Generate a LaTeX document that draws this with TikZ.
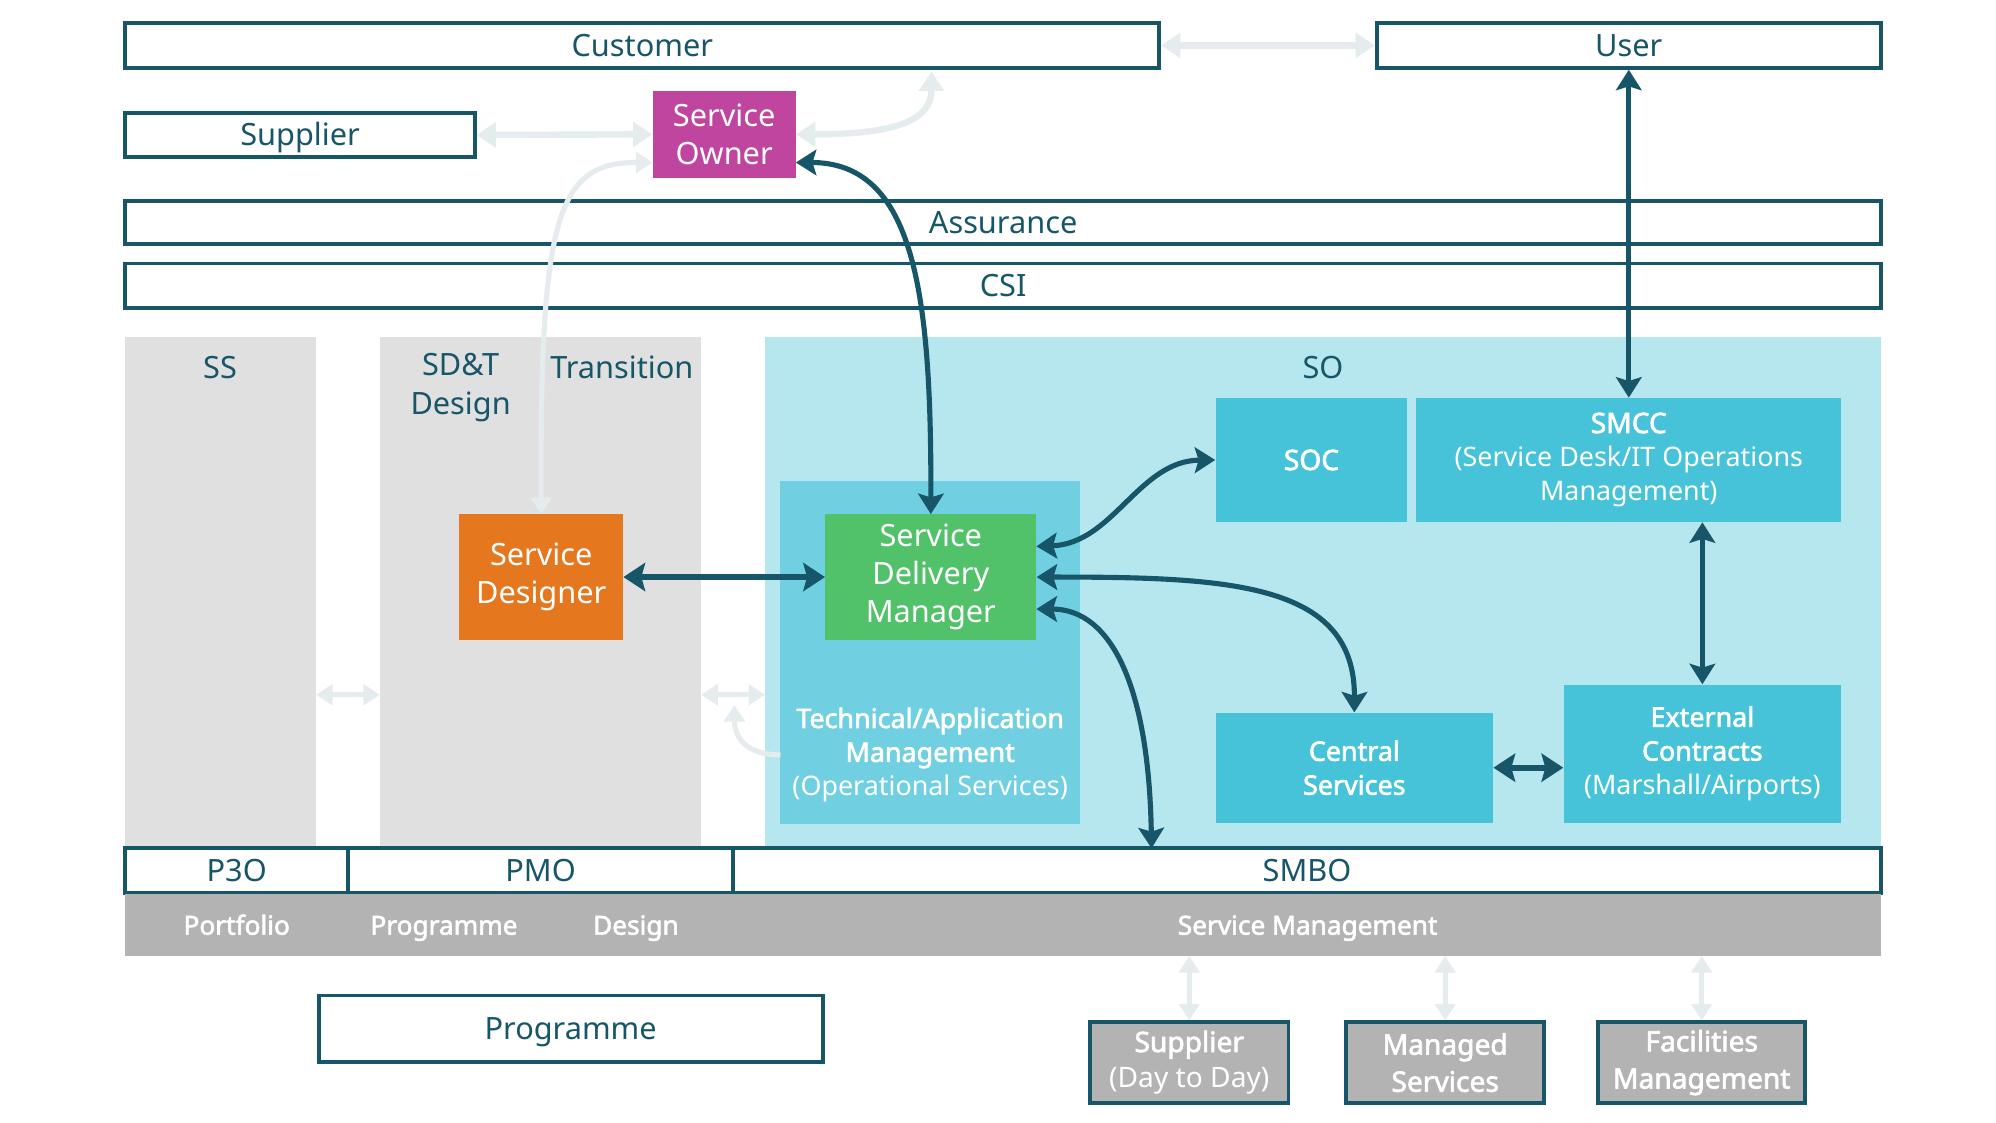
\documentclass[tikz,border=0pt]{standalone}
\usepackage{fontspec}
\setmainfont{Noto Sans}[AutoFakeBold=2.2]
\usetikzlibrary{arrows.meta}
\definecolor{dk}{HTML}{175668}
\definecolor{lt}{HTML}{E4ECEE}
\definecolor{colgray}{HTML}{E0E0E0}
\definecolor{soreg}{HTML}{B6E6EE}
\definecolor{techc}{HTML}{70D0E2}
\definecolor{cyanb}{HTML}{46C3D9}
\definecolor{magb}{HTML}{BF459E}
\definecolor{orgb}{HTML}{E5771F}
\definecolor{grnb}{HTML}{51C16A}
\definecolor{bandc}{HTML}{B3B3B3}
\begin{document}
\begin{tikzpicture}[x=1pt,y=-1pt,
  obox/.style={draw=dk, line width=3pt, fill=white, text=dk, inner sep=0pt,
    text height=17pt, text depth=0pt, font=\fontsize{24}{29}\selectfont},
  fbox/.style={inner sep=0pt, text=white, align=center},
  bigtxt/.style={font=\fontsize{24}{29.5}\selectfont},
  cytxt/.style={font=\fontsize{21}{26.5}\selectfont},
  lbl/.style={text=dk, align=center, inner sep=0pt, font=\fontsize{24}{31}\selectfont},
  bandtxt/.style={text=white, inner sep=0pt, anchor=base, font=\bfseries\fontsize{20.5}{24}\selectfont},
  darr/.style={draw=dk, line width=4pt,
    {Stealth[length=16pt,width=20pt,inset=3pt]}-{Stealth[length=16pt,width=20pt,inset=3pt]}},
  tarr/.style={draw=dk, line width=5pt,
    {Stealth[length=17pt,width=22pt,inset=3pt]}-{Stealth[length=17pt,width=22pt,inset=3pt]}},
  larr/.style={draw=lt, line width=5pt,
    {Triangle[length=15pt,width=19pt]}-{Triangle[length=15pt,width=19pt]}},
  sarr/.style={draw=lt, line width=4pt,
    {Triangle[length=13pt,width=16pt]}-{Triangle[length=13pt,width=16pt]}},
]
\useasboundingbox (0,0) rectangle (1560,877.5);

% regions
\node[fill=colgray, minimum width=149pt, minimum height=399pt, inner sep=0pt] (ss) at (172.5,462.5) {};
\node[fill=colgray, minimum width=251pt, minimum height=399pt, inner sep=0pt] (sdt) at (422.5,462.5) {};
\node[fill=soreg, minimum width=872pt, minimum height=399pt, inner sep=0pt] (so) at (1034,462.5) {};
\node[lbl] (sslbl) at (172,287) {SS};
\node[lbl] (sdtlbl) at (360,303) {SD\&T\\Design};
\node[lbl] (trlbl) at (486,287) {Transition};
\node[lbl] (solbl) at (1034,287) {SO};

\node[fill=techc, minimum width=234pt, minimum height=268pt, inner sep=0pt] (tech) at (727,510) {};
\node[fbox, cytxt] (techlbl) at (727,590) {\textbf{Technical/Application}\\\textbf{Management}\\(Operational Services)};

% top boxes
\node[obox, minimum width=808pt, minimum height=35pt] (cust) at (502,35.5) {Customer};
\node[obox, minimum width=394pt, minimum height=35pt] (user) at (1273,35.5) {User};
\node[obox, minimum width=273pt, minimum height=35pt] (supp) at (234.5,105.5) {Supplier};
\node[fbox, bigtxt, fill=magb, minimum width=112pt, minimum height=68pt] (sowner) at (566,105) {Service\\Owner};
\node[obox, minimum width=1372pt, minimum height=34pt] (assur) at (784,174) {Assurance};
\node[obox, minimum width=1372pt, minimum height=35pt] (csi) at (784,223.5) {CSI};

% inner boxes
\node[fbox, bigtxt, fill=orgb, minimum width=128pt, minimum height=98pt] (sd) at (423,451) {Service\\Designer};
\node[fbox, bigtxt, fill=grnb, minimum width=165pt, minimum height=98pt] (sdm) at (727.5,451) {Service\\Delivery\\Manager};
\node[fbox, fill=cyanb, minimum width=150pt, minimum height=97pt, font=\bfseries\fontsize{22}{27}\selectfont] (soc) at (1025,359.5) {SOC};
\node[fbox, cytxt, fill=cyanb, minimum width=332pt, minimum height=97pt] (smcc) at (1273,359.5) {\textbf{\fontsize{22}{26.5}\selectfont SMCC}\\(Service Desk/IT Operations\\Management)};
\node[fbox, cytxt, fill=cyanb, minimum width=217pt, minimum height=86pt] (central) at (1058.5,600) {\textbf{Central}\\\textbf{Services}};
\node[fbox, cytxt, fill=cyanb, minimum width=217pt, minimum height=108pt] (ext) at (1330.5,589) {\textbf{External}\\\textbf{Contracts}\\(Marshall/Airports)};

% bottom rows
\node[obox, minimum width=174pt, minimum height=35pt] (p3o) at (185,680.5) {P3O};
\node[obox, minimum width=301pt, minimum height=35pt] (pmo) at (422.5,680.5) {PMO};
\node[obox, minimum width=897pt, minimum height=35pt] (smbo) at (1021.5,680.5) {SMBO};
\node[fill=bandc, minimum width=1372pt, minimum height=48pt, inner sep=0pt] (band) at (784,723) {};
\node[bandtxt] (bport) at (185,730.5) {Portfolio};
\node[bandtxt] (bprog) at (347,730.5) {Programme};
\node[bandtxt] (bdes) at (497,730.5) {Design};
\node[bandtxt] (bsm) at (1022,730.5) {Service Management};

\node[obox, minimum width=394pt, minimum height=52pt] (prog) at (446,804) {Programme};
\node[fbox, draw=dk, line width=3pt, fill=bandc, minimum width=155pt, minimum height=63pt, font=\fontsize{22}{28}\selectfont] (sdd) at (929.5,830.5) {\textbf{Supplier}\\(Day to Day)};
\node[fbox, draw=dk, line width=3pt, fill=bandc, minimum width=155pt, minimum height=63pt, font=\bfseries\fontsize{22}{29}\selectfont] (msv) at (1129.5,830.5) {Managed\\Services};
\node[fbox, draw=dk, line width=3pt, fill=bandc, minimum width=162pt, minimum height=63pt, font=\bfseries\fontsize{22}{29}\selectfont] (fac) at (1330,830.5) {Facilities\\Management};

% helper coordinates
\coordinate (custin) at (728,56);
\coordinate (sowlow) at (510,127);
\coordinate (soelow) at (622,127);
\coordinate (sdmhi) at (810,427);
\coordinate (sdmlo) at (810,476);
\coordinate (smbotop) at (900,663);
\coordinate (sscol) at (247,543);
\coordinate (sdtcolL) at (297,543);
\coordinate (sdtcolR) at (548,543);
\coordinate (socolL) at (598,543);
\coordinate (techin) at (610,590);
\coordinate (techup) at (574,551);

% light connectors
\draw[larr] (cust.east) -- (user.west);
\draw[larr] (supp.east) -- (sowner.west);
\draw[larr] (sowner.east) .. controls (705,105) and (728,92) .. (custin);
\draw[sarr] (sd.north) .. controls (422,170) and (435,127) .. (sowlow);
\draw[sarr] (sscol) -- (sdtcolL);
\draw[sarr] (sdtcolR) -- (socolL);
\draw[draw=lt, line width=4pt, -{Triangle[length=13pt,width=16pt]}] (techin) .. controls (585,590) and (574,578) .. (techup);
\draw[sarr] (band.south -| sdd.north) -- (sdd.north);
\draw[sarr] (band.south -| msv.north) -- (msv.north);
\draw[sarr] (band.south -| fac.north) -- (fac.north);

% dark connectors
\draw[darr] (soelow) .. controls (715,127) and (728,230) .. (sdm.north);
\draw[tarr] (sd.east) -- (sdm.west);
\draw[darr] (sdmhi) .. controls (870,425) and (890,360) .. (soc.west);
\draw[darr] (sdm.east) .. controls (960,451) and (1059,455) .. (central.north);
\draw[darr] (sdmlo) .. controls (870,476) and (898,540) .. (smbotop);
\draw[darr] (user.south) -- (smcc.north);
\draw[darr] (ext.north |- smcc.south) -- (ext.north);
\draw[tarr] (central.east) -- (central.east -| ext.west);
\end{tikzpicture}
\end{document}
